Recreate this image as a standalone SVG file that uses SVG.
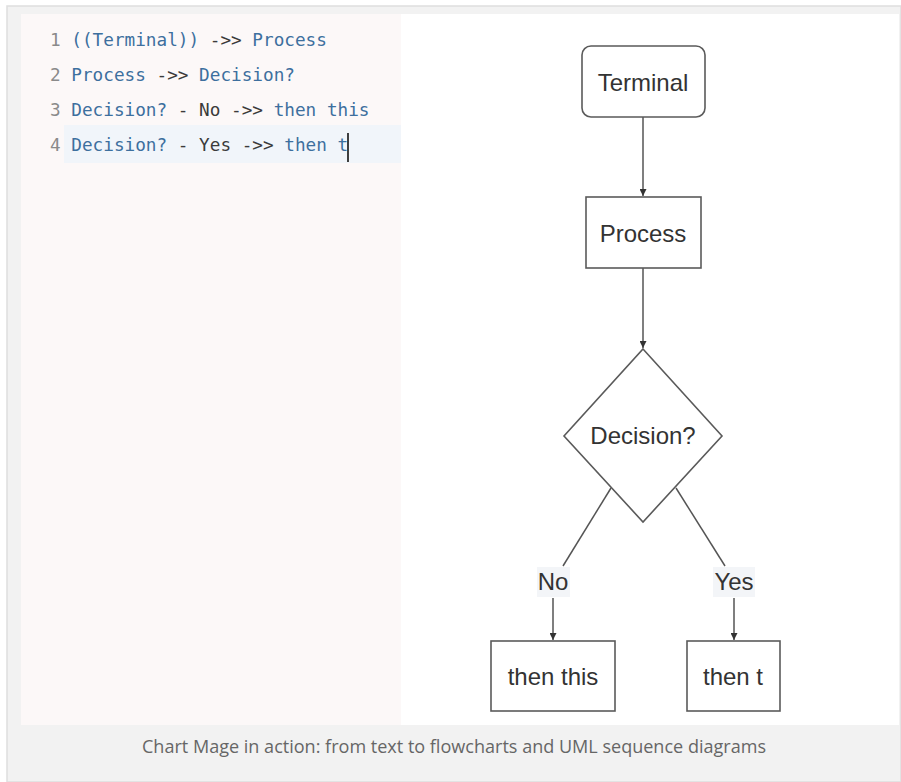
<svg xmlns="http://www.w3.org/2000/svg" width="901" height="782" viewBox="0 0 901 782">
<defs>
<style>
.code{font-family:"DejaVu Sans Mono","Liberation Mono",monospace;font-size:17.7px;fill:#3b3b3b}
.num{fill:#8a8a8a}
.id{fill:#3d6f9e}
.node{fill:#ffffff;stroke:#5a5a5a;stroke-width:1.6}
.lbl{font-family:"Liberation Sans",Arial,sans-serif;font-size:24px;fill:#333;text-anchor:middle}
.edge{stroke:#555;stroke-width:1.5;fill:none}
.cap{font-family:"Open Sans","Liberation Sans",sans-serif;font-size:18.5px;fill:#666;text-anchor:middle}
</style>
<marker id="arr" viewBox="0 0 10 10" refX="10" refY="5" markerWidth="7" markerHeight="7" markerUnits="userSpaceOnUse" orient="auto">
<path d="M0,0 L10,5 L0,10 z" fill="#333"/>
</marker>
</defs>
<rect x="0" y="0" width="901" height="782" fill="#ffffff"/>
<rect x="7" y="6" width="894" height="776" fill="#f2f2f2" stroke="#dedede" stroke-width="1.5"/>
<rect x="21" y="14" width="380" height="711" fill="#fcf8f8"/>
<rect x="401" y="14" width="498" height="711" fill="#ffffff"/>
<rect x="64" y="125" width="337" height="38" fill="#f1f5fa"/>
<g id="code">
<text class="code" x="50" y="46"><tspan class="num">1 </tspan><tspan class="id">((Terminal))</tspan> -&gt;&gt; <tspan class="id">Process</tspan></text>
<text class="code" x="50" y="81"><tspan class="num">2 </tspan><tspan class="id">Process</tspan> -&gt;&gt; <tspan class="id">Decision?</tspan></text>
<text class="code" x="50" y="116"><tspan class="num">3 </tspan><tspan class="id">Decision?</tspan> - No -&gt;&gt; <tspan class="id">then this</tspan></text>
<text class="code" x="50" y="151"><tspan class="num">4 </tspan><tspan class="id">Decision?</tspan> - Yes -&gt;&gt; <tspan class="id">then t</tspan></text>
<line x1="348" y1="133" x2="348" y2="162" stroke="#111" stroke-width="1.6"/>
</g>
<g id="connectors">
<line class="edge" x1="643" y1="117" x2="643" y2="196" marker-end="url(#arr)"/>
<line class="edge" x1="643" y1="268" x2="643" y2="348" marker-end="url(#arr)"/>
<line class="edge" x1="611" y1="488" x2="563" y2="566"/>
<line class="edge" x1="553" y1="598" x2="553" y2="640" marker-end="url(#arr)"/>
<line class="edge" x1="676" y1="488" x2="725" y2="566"/>
<line class="edge" x1="734" y1="598" x2="734" y2="640" marker-end="url(#arr)"/>
<rect x="537" y="567" width="33" height="30" fill="#f3f5f8"/>
<text class="lbl" x="553" y="590">No</text>
<rect x="713" y="567" width="42" height="30" fill="#f3f5f8"/>
<text class="lbl" x="734" y="590">Yes</text>
</g>
<g id="terminal">
<rect class="node" x="582" y="46" width="123" height="71" rx="9"/>
<text class="lbl" x="643" y="91">Terminal</text>
</g>
<g id="process">
<rect class="node" x="586" y="197" width="115" height="71"/>
<text class="lbl" x="643" y="242">Process</text>
</g>
<g id="decision">
<polygon class="node" points="643,349 722,436 643,522 564,436"/>
<text class="lbl" x="643" y="444">Decision?</text>
</g>
<g id="thenthis">
<rect class="node" x="491" y="641" width="124" height="70"/>
<text class="lbl" x="553" y="685">then this</text>
</g>
<g id="thent">
<rect class="node" x="687" y="641" width="93" height="70"/>
<text class="lbl" x="733" y="685">then t</text>
</g>
<text class="cap" x="454" y="753" textLength="624" lengthAdjust="spacingAndGlyphs">Chart Mage in action: from text to flowcharts and UML sequence diagrams</text>
</svg>
